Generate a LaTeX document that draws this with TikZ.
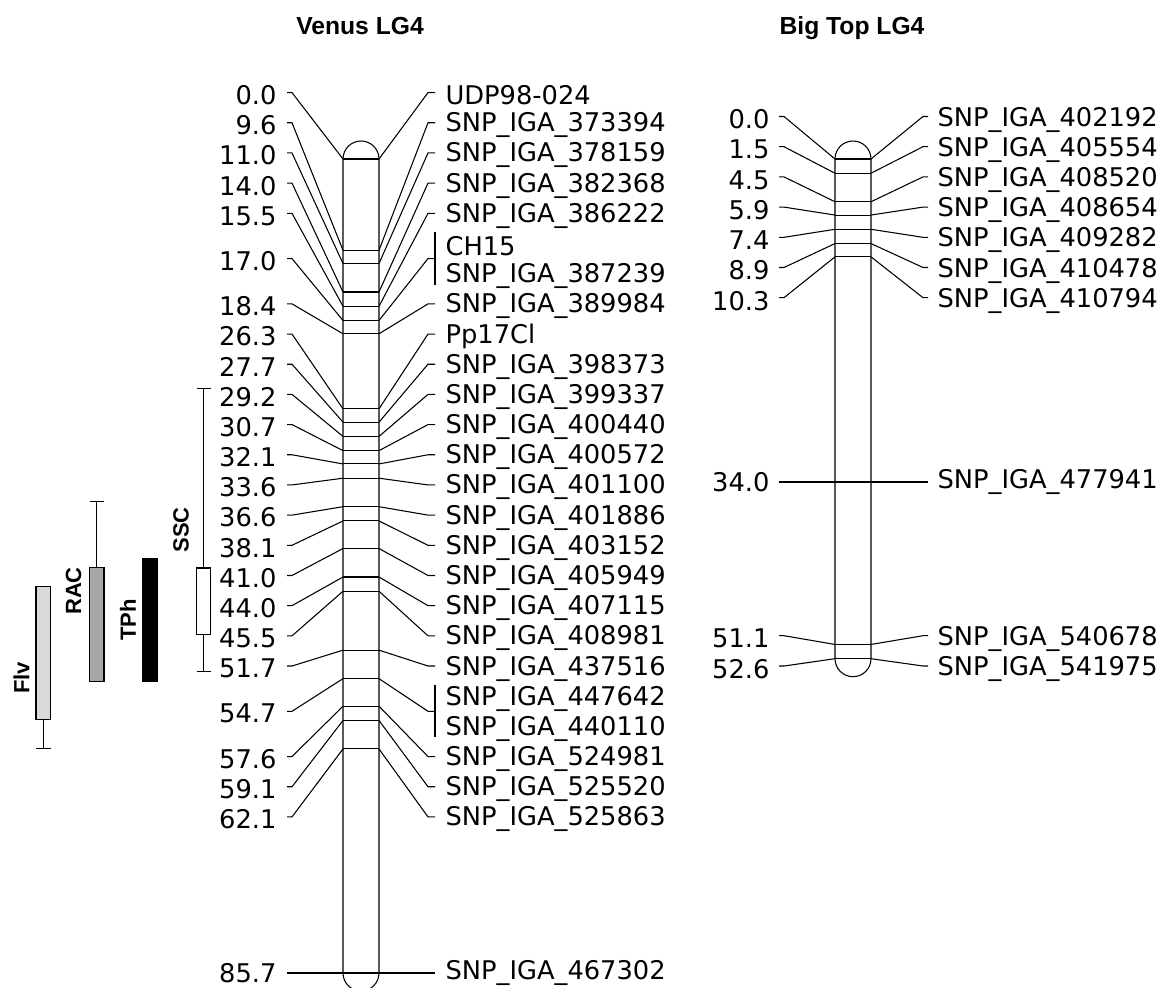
\documentclass[tikz,border=0pt]{standalone}
\usepackage{fontspec}
\setmainfont{DejaVu Sans}
\newfontfamily\headfont{Liberation Sans}
\usepackage{tikz}
\usetikzlibrary{positioning}

\begin{document}
\begin{tikzpicture}[x=0.75pt,y=-0.75pt,line width=0.8pt]
\tikzstyle{cmlabel}=[anchor=east, inner sep=0pt, font=\fontsize{19.3}{20}\selectfont]
\tikzstyle{mklabel}=[anchor=west, inner sep=0pt, font=\fontsize{19.3}{20}\selectfont]
\tikzstyle{maptitle}=[anchor=base, inner sep=0pt, font=\headfont\bfseries\fontsize{18.5}{20}\selectfont]
\tikzstyle{trait}=[rotate=90, inner sep=0pt, font=\headfont\bfseries\fontsize{16.5}{18}\selectfont]
\tikzstyle{qtlbox}=[draw, line width=0.8pt]

\useasboundingbox (0,0) rectangle (1164,988);

\node[maptitle] (venus) at (360,35) {Venus LG4};
\node[maptitle] (bigtop) at (852,35) {Big Top LG4};

% Venus LG4
\draw (343,159) arc[start angle=180,end angle=0,radius=13.5pt] -- (379,973)
  arc[start angle=0,end angle=-180,radius=13.5pt] -- cycle;

\foreach \mpos/\mrow [count=\i] in {0.0/0, 9.6/1, 11.0/2, 14.0/3, 15.5/4, 17.0/5.5, 18.4/7,
  26.3/8, 27.7/9, 29.2/10, 30.7/11, 32.1/12, 33.6/13, 36.6/14, 38.1/15, 41.0/16, 44.0/17,
  45.5/18, 51.7/19, 54.7/20.5, 57.6/22, 59.1/23, 62.1/24}{
  \coordinate (vL\i) at (343,{159+9.5*\mpos});
  \coordinate (vR\i) at (379,{159+9.5*\mpos});
  \draw (vL\i) -- (vR\i);
  \node[cmlabel] (vcm\i) at (277,{95.1+30.18*\mrow}) {\mpos};
  \draw (vcm\i.east) ++(10,-2.5) -- ++(5,0) -- (vL\i);
  \coordinate (vb\i) at (428,{92.6+30.18*\mrow});
  \draw (vR\i) -- (vb\i) -- ++(7,0);
}

\foreach \mrow/\mname [count=\i] in {0/UDP98-024, 1/SNP\_IGA\_373394, 2/SNP\_IGA\_378159,
  3/SNP\_IGA\_382368, 4/SNP\_IGA\_386222, 5/CH15, 6/SNP\_IGA\_387239, 7/SNP\_IGA\_389984,
  8/Pp17Cl, 9/SNP\_IGA\_398373, 10/SNP\_IGA\_399337, 11/SNP\_IGA\_400440, 12/SNP\_IGA\_400572,
  13/SNP\_IGA\_401100, 14/SNP\_IGA\_401886, 15/SNP\_IGA\_403152, 16/SNP\_IGA\_405949,
  17/SNP\_IGA\_407115, 18/SNP\_IGA\_408981, 19/SNP\_IGA\_437516, 20/SNP\_IGA\_447642,
  21/SNP\_IGA\_440110, 22/SNP\_IGA\_524981, 23/SNP\_IGA\_525520, 24/SNP\_IGA\_525863}
  \node[mklabel] (vmk\i) at (445,{95.1+30.18*\mrow}) {\mname};

% brackets for markers at the same position
\draw (vmk6.west) ++(-10,-13.5) -- ++(0,52.2);
\draw (vmk21.west) ++(-10,-13.5) -- ++(0,52.2);

\node[cmlabel] (vcm24) at (277,973) {85.7};
\node[mklabel] (vmk26) at (445,973) {SNP\_IGA\_467302};
\draw ([xshift=7.5pt]vcm24.east) -- ([xshift=-7.5pt]vmk26.west);

% Big Top LG4
\draw (835,159) arc[start angle=180,end angle=0,radius=13.5pt] -- (871,658.7)
  arc[start angle=0,end angle=-180,radius=13.5pt] -- cycle;

\foreach \mpos/\ly/\mname [count=\i] in {0.0/116.5/402192, 1.5/146.7/405554, 4.5/176.9/408520,
  5.9/207.1/408654, 7.4/237.3/409282, 8.9/267.5/410478, 10.3/297.7/410794,
  51.1/635.7/540678, 52.6/666/541975}{
  \coordinate (bL\i) at (835,{159+9.5*\mpos});
  \coordinate (bR\i) at (871,{159+9.5*\mpos});
  \draw (bL\i) -- (bR\i);
  \node[cmlabel] (bcm\i) at (770,\ly+3) {\mpos};
  \node[mklabel] (bmk\i) at (937,\ly+3) {SNP\_IGA\_\mname};
  \draw (bcm\i.east) ++(9,-3) -- ++(5,0) -- (bL\i);
  \coordinate (bb\i) at (923,\ly);
  \draw (bR\i) -- (bb\i) -- ++(5,0);
}

\node[cmlabel] (bcm10) at (770,482) {34.0};
\node[mklabel] (bmk10) at (937,482) {SNP\_IGA\_477941};
\draw ([xshift=6.75pt]bcm10.east) -- ([xshift=-6.75pt]bmk10.west);

% QTL intervals
\draw (203.5,388.3) -- (203.5,671.7);
\draw (196.5,388.3) -- (210.5,388.3);
\draw (196.5,671.7) -- (210.5,671.7);
\draw[qtlbox, fill=white] (196.5,568) rectangle (210.5,634.3);
\node[trait] (ssc) at (181,530) {SSC};

\draw (96.7,501.7) -- (96.7,568);
\draw (89.5,501.7) -- (104,501.7);
\draw[qtlbox, fill=black!35] (89.5,567.7) rectangle (104,681.7);
\node[trait] (rac) at (73.5,591) {RAC};

\draw[qtlbox, fill=black] (142.7,558.3) rectangle (157.3,681.7);
\node[trait] (tph) at (128,620) {TPh};

\draw (43.3,719.3) -- (43.3,748.3);
\draw (36,748.3) -- (50.7,748.3);
\draw[qtlbox, fill=black!15] (36,586.7) rectangle (50.7,719.3);
\node[trait] (flv) at (21.5,678) {Flv};
\end{tikzpicture}
\end{document}
